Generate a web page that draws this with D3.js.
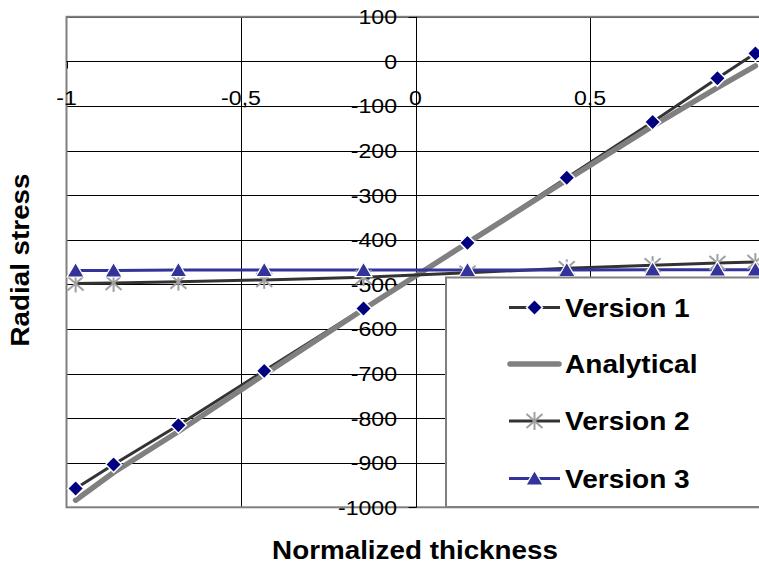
<!DOCTYPE html>
<html>
<head>
<meta charset="utf-8">
<script src="https://cdn.jsdelivr.net/npm/d3@7"></script>
<style>
  html, body { margin: 0; padding: 0; background: #fff; }
  svg { display: block; }
  text { font-family: "Liberation Sans", Arial, sans-serif; fill: #000; }
</style>
</head>
<body>
<div id="chart"></div>
<script>
// Normalized thickness sample points (10-point Gauss nodes)
const thickness = [-0.9739, -0.8651, -0.6794, -0.4334, -0.1489, 0.1489, 0.4334, 0.6794, 0.8651, 0.9739];

// Radial stress per model
const version1   = [-958, -904, -816, -694, -554, -407, -261, -136, -38, 18];
const analytical = [-984, -922, -830, -702, -556, -407, -266, -145, -59, -10];
const version2   = [-498, -497, -494, -490, -484, -474, -464, -457, -452, -450];
const version3   = [-469, -469, -468, -468, -468, -468, -468, -467, -467, -467];

// Axis ticks and labels
const xTicks = [-1, -0.5, 0, 0.5];
const xTickLabels = ["-1", "-0,5", "0", "0,5"];
const yTicks = [100, 0, -100, -200, -300, -400, -500, -600, -700, -800, -900, -1000];
const yTickLabels = ["100", "0", "-100", "-200", "-300", "-400", "-500", "-600", "-700", "-800", "-900", "-1000"];

const seriesNames = ["Version 1", "Analytical", "Version 2", "Version 3"];

const W = 759, H = 566;
const svg = d3.select("#chart").append("svg").attr("width", W).attr("height", H);

const x = d3.scaleLinear().domain([-1, 1]).range([66.5, 764.5]);
const y = d3.scaleLinear().domain([-1000, 100]).range([507.3, 16.8]);

const TX = 1.1; // horizontal stretch of the lettering

function stretchedText(g, px, py, str, opts) {
  return g.append("text")
    .attr("transform", `translate(${px},${py}) scale(${opts.sx || TX},1)`)
    .attr("text-anchor", opts.anchor || "start")
    .style("font-size", opts.size + "px")
    .style("font-weight", opts.weight || "normal")
    .text(str);
}

// Plot area background
svg.append("rect")
  .attr("x", x(-1)).attr("y", y(100))
  .attr("width", x(1) - x(-1)).attr("height", y(-1000) - y(100))
  .attr("fill", "#fff");

// Horizontal gridlines
svg.append("g").selectAll("line").data(yTicks).join("line")
  .attr("x1", x(-1)).attr("x2", x(1))
  .attr("y1", d => Math.round(y(d)) + 0.5).attr("y2", d => Math.round(y(d)) + 0.5)
  .attr("stroke", "#000").attr("stroke-width", 1);

// Vertical gridlines
svg.append("g").selectAll("line").data([-0.5, 0.5]).join("line")
  .attr("x1", d => Math.round(x(d)) + 0.5).attr("x2", d => Math.round(x(d)) + 0.5)
  .attr("y1", y(100)).attr("y2", y(-1000))
  .attr("stroke", "#000").attr("stroke-width", 1);

// Plot border
svg.append("rect")
  .attr("x", x(-1)).attr("y", y(100))
  .attr("width", x(1) - x(-1)).attr("height", y(-1000) - y(100))
  .attr("fill", "none").attr("stroke", "#808080").attr("stroke-width", 2);

// X axis through y = 0
const x0 = Math.round(y(0)) + 0.5;
svg.append("line").attr("x1", x(-1)).attr("x2", x(1)).attr("y1", x0).attr("y2", x0)
  .attr("stroke", "#000").attr("stroke-width", 1);
svg.append("g").selectAll("line").data(xTicks).join("line")
  .attr("x1", d => Math.round(x(d)) + 0.5).attr("x2", d => Math.round(x(d)) + 0.5)
  .attr("y1", x0).attr("y2", x0 + 7)
  .attr("stroke", "#000").attr("stroke-width", 1);
const xLab = svg.append("g");
xTicks.forEach((d, i) => {
  stretchedText(xLab, x(d), 105, xTickLabels[i], { anchor: "middle", size: 21 });
});

// Y axis through x = 0
const y0 = Math.round(x(0)) + 0.5;
svg.append("line").attr("x1", y0).attr("x2", y0).attr("y1", y(100)).attr("y2", y(-1000))
  .attr("stroke", "#000").attr("stroke-width", 1);
svg.append("g").selectAll("line").data(yTicks).join("line")
  .attr("x1", y0 - 8).attr("x2", y0)
  .attr("y1", d => Math.round(y(d)) + 0.5).attr("y2", d => Math.round(y(d)) + 0.5)
  .attr("stroke", "#000").attr("stroke-width", 1);
const yLab = svg.append("g");
yTicks.forEach((d, i) => {
  stretchedText(yLab, 397, y(d) + 7.5, yTickLabels[i], { anchor: "end", size: 21 });
});

// Series lines
const pts = vals => thickness.map((t, i) => [t, vals[i]]);
const line = d3.line().x(d => x(d[0])).y(d => y(d[1]));

const lines = svg.append("g").attr("fill", "none");
lines.append("path").attr("d", line(pts(version1)))
  .attr("stroke", "#333333").attr("stroke-width", 3);
lines.append("path").attr("d", line(pts(analytical)))
  .attr("stroke", "#808080").attr("stroke-width", 5.5).attr("stroke-linecap", "round").attr("stroke-linejoin", "round");
lines.append("path").attr("d", line(pts(version2)))
  .attr("stroke", "#333333").attr("stroke-width", 3);
lines.append("path").attr("d", line(pts(version3)))
  .attr("stroke", "#333399").attr("stroke-width", 3);

// Marker shapes
const diamondPath = "M0,-8L8,0L0,8L-8,0Z";
const trianglePath = "M0,-8L8.5,6.5L-8.5,6.5Z";

function drawAsterisk(g, cx, cy) {
  const a = g.append("g").attr("transform", `translate(${cx},${cy})`)
    .attr("stroke", "#a0a0a0").attr("stroke-width", 2);
  a.append("line").attr("x1", 0).attr("x2", 0).attr("y1", -9).attr("y2", 9);
  a.append("line").attr("x1", -8).attr("x2", 8).attr("y1", -7).attr("y2", 7);
  a.append("line").attr("x1", -8).attr("x2", 8).attr("y1", 7).attr("y2", -7);
}

const markers = svg.append("g");
markers.append("g").selectAll("path").data(pts(version1)).join("path")
  .attr("d", diamondPath)
  .attr("transform", d => `translate(${x(d[0])},${y(d[1])})`)
  .attr("fill", "#000080").attr("stroke", "#fff").attr("stroke-width", 1.5);
const v2m = markers.append("g");
pts(version2).forEach(d => drawAsterisk(v2m, x(d[0]), y(d[1])));
markers.append("g").selectAll("path").data(pts(version3)).join("path")
  .attr("d", trianglePath)
  .attr("transform", d => `translate(${x(d[0])},${y(d[1])})`)
  .attr("fill", "#333399").attr("stroke", "#fff").attr("stroke-width", 1.2);

// Legend
const leg = svg.append("g");
leg.append("rect").attr("x", 446).attr("y", 277.5).attr("width", 330).attr("height", 229.5)
  .attr("fill", "#fff").attr("stroke", "#808080").attr("stroke-width", 2);
const rowY = [307.5, 364, 421, 478.5];
const sx1 = 509, sx2 = 560, smid = (sx1 + sx2) / 2;
// Version 1
leg.append("line").attr("x1", sx1).attr("x2", sx2).attr("y1", rowY[0]).attr("y2", rowY[0])
  .attr("stroke", "#333333").attr("stroke-width", 3);
leg.append("path").attr("d", diamondPath).attr("transform", `translate(${smid},${rowY[0]})`)
  .attr("fill", "#000080").attr("stroke", "#fff").attr("stroke-width", 1.5);
// Analytical
leg.append("line").attr("x1", sx1 + 1).attr("x2", sx2 - 1).attr("y1", rowY[1]).attr("y2", rowY[1])
  .attr("stroke", "#808080").attr("stroke-width", 5.5).attr("stroke-linecap", "round");
// Version 2
leg.append("line").attr("x1", sx1).attr("x2", sx2).attr("y1", rowY[2]).attr("y2", rowY[2])
  .attr("stroke", "#333333").attr("stroke-width", 3);
drawAsterisk(leg, smid, rowY[2]);
// Version 3
leg.append("line").attr("x1", sx1).attr("x2", sx2).attr("y1", rowY[3]).attr("y2", rowY[3])
  .attr("stroke", "#333399").attr("stroke-width", 3);
leg.append("path").attr("d", trianglePath).attr("transform", `translate(${smid},${rowY[3]})`)
  .attr("fill", "#333399").attr("stroke", "#fff").attr("stroke-width", 1.2);
seriesNames.forEach((n, i) => {
  stretchedText(leg, 565, rowY[i] + 9, n, { size: 25.5, weight: "bold", sx: 1.1 });
});

// Axis titles
stretchedText(svg, 415, 559, "Normalized thickness", { anchor: "middle", size: 26, weight: "bold", sx: 1.07 });
svg.append("text")
  .attr("transform", `translate(29,260) rotate(-90) scale(1.07,1)`)
  .attr("text-anchor", "middle")
  .style("font-size", "26px").style("font-weight", "bold")
  .text("Radial stress");
</script>
</body>
</html>
